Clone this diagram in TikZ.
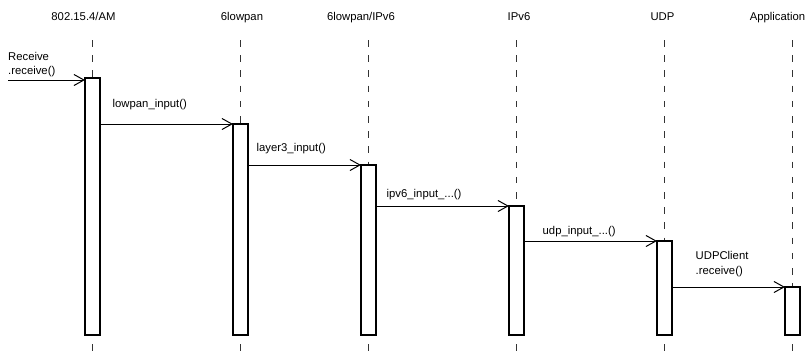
\documentclass[tikz,border=0pt]{standalone}
\usepackage{fontspec}
\setmainfont{Liberation Sans}
\usetikzlibrary{arrows.meta}
\begin{document}
\begin{tikzpicture}[x=1pt,y=-1pt,
  font=\fontsize{11.3}{14}\selectfont,
  head/.style={anchor=base, inner sep=0pt},
  lbl/.style={anchor=base west, inner sep=0pt, align=left},
  life/.style={line width=1pt, dash pattern=on 6.5pt off 8.7pt, black!80},
  act/.style={draw, line width=2pt, fill=white, minimum width=15pt, inner sep=0pt, outer sep=0pt, anchor=north},
  msg/.style={line width=1pt, yshift=0.5pt, -{Straight Barb[length=10pt,width=11pt,line width=1pt]}}]
\useasboundingbox (0,0) rectangle (810,351);
% headers
\node[head] (h1) at (83.5,20) {802.15.4/AM};
\node[head] (h2) at (242,20) {6lowpan};
\node[head] (h3) at (361,20) {6lowpan/IPv6};
\node[head] (h4) at (519,20) {IPv6};
\node[head] (h5) at (662.5,20) {UDP};
\node[head] (h6) at (777.5,20) {Application};
% lifelines
\foreach \i/\x in {1/92.5,2/240.5,3/368.5,4/516.5,5/664.5,6/792.5}{
  \coordinate (t\i) at (\x,40);
  \coordinate (e\i) at (\x,351);
  \draw[life] (t\i) -- (e\i);
}
% activation boxes
\node[act, minimum height=257pt] (b1) at (92.5,78) {};
\node[act, minimum height=211pt] (b2) at (240.5,124) {};
\node[act, minimum height=170pt] (b3) at (368.5,165) {};
\node[act, minimum height=129pt] (b4) at (516.5,206) {};
\node[act, minimum height=94pt] (b5) at (664.5,241) {};
\node[act, minimum height=48pt] (b6) at (792.5,287) {};
% messages
\coordinate (in) at (8,80);
\draw[msg] (in) -- (in -| b1.west);
\draw[msg] (b1.east |- b2.north) -- (b2.north west);
\draw[msg] (b2.east |- b3.north) -- (b3.north west);
\draw[msg] (b3.east |- b4.north) -- (b4.north west);
\draw[msg] (b4.east |- b5.north) -- (b5.north west);
\draw[msg] (b5.east |- b6.north) -- (b6.north west);
% labels
\node[lbl] (l1) at (8,60.5) {Receive};
\node[lbl] (l1b) at (8,74.5) {.receive()};
\node[lbl] (l2) at (112.5,107) {lowpan\_input()};
\node[lbl] (l3) at (256.5,151) {layer3\_input()};
\node[lbl] (l4) at (386.5,197.5) {ipv6\_input\_...()};
\node[lbl] (l5) at (542.5,234) {udp\_input\_...()};
\node[lbl] (l6) at (695.5,259) {UDPClient};
\node[lbl] (l6b) at (695.5,274) {.receive()};
\end{tikzpicture}
\end{document}
